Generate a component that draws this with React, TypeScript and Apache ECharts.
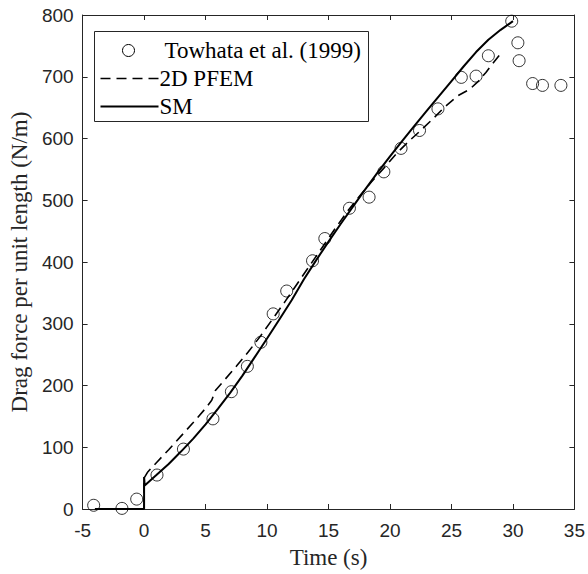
import React, { useEffect, useRef } from "react";
import * as echarts from "echarts";

const xTicks = [-5, 0, 5, 10, 15, 20, 25, 30, 35];
const yTicks = [0, 100, 200, 300, 400, 500, 600, 700, 800];

// Towhata et al. (1999) experimental points [time, force]
const towhataData: [number, number][] = [
  [-4.1, 6], [-1.8, 1], [-0.6, 16], [1.05, 55], [3.2, 97], [5.6, 146],
  [7.1, 190], [8.4, 231], [9.5, 270], [10.5, 316], [11.6, 353], [13.7, 402],
  [14.7, 438], [16.7, 487], [18.3, 505], [19.5, 546], [20.9, 584], [22.4, 613],
  [23.9, 648], [25.8, 699], [27.0, 701], [28.0, 734], [29.9, 790], [30.4, 755],
  [30.5, 726], [31.6, 689], [32.4, 686], [33.9, 686],
];

// 2D PFEM [time, force]
const pfemData: [number, number][] = [
  [0, 0], [0, 50], [0.3, 60], [1, 75], [2, 96], [3, 118], [4, 140], [5, 163],
  [5.5, 176], [5.8, 192], [6.5, 208], [7.5, 231], [8.5, 255], [9.5, 281],
  [10.5, 309], [11.5, 337], [12.5, 366], [13.5, 395], [14.5, 424], [15.5, 453],
  [16.5, 481], [17.5, 506], [18.5, 530], [19.5, 552], [20.5, 575], [21.5, 595],
  [22.5, 613], [23.5, 632], [24.5, 652], [25.5, 669], [26.5, 680], [27.2, 693],
  [27.8, 707], [28.3, 720], [28.9, 735],
];

// SM [time, force]
const smData: [number, number][] = [
  [-4, 0], [0, 0], [0, 52], [0.05, 38], [1, 55], [2, 73], [3, 93], [4, 114],
  [5, 137], [6, 162], [7, 188], [8, 216], [9, 246], [10, 276], [11, 307],
  [12, 338], [13, 372], [14, 403], [15, 433], [16, 462], [17, 490], [18, 518],
  [19, 545], [20, 571], [21, 596], [22, 621], [23, 645], [24, 669], [25, 693],
  [26, 717], [27, 740], [28, 760], [29, 776], [30, 790],
];

const legendItems = ["Towhata et al. (1999)", "2D PFEM", "SM"];

const AXIS_COLOR = "#262626";
const SERIF = "'Liberation Serif', 'Times New Roman', serif";
const SANS = "'Liberation Sans', Arial, sans-serif";
const SERIF_SIZE = 23;
const TICK_SIZE = 19;
const DASH = [10, 6];

export default function App() {
  const ref = useRef<HTMLDivElement>(null);

  useEffect(() => {
    if (!ref.current) return;
    const chart = echarts.init(ref.current, undefined, { renderer: "svg" });

    const axisCommon = {
      type: "value" as const,
      axisLine: { show: true, onZero: false, lineStyle: { color: AXIS_COLOR, width: 1 } },
      axisTick: { show: true, inside: true, length: 5, lineStyle: { color: AXIS_COLOR } },
      splitLine: { show: false },
    };

    const legendX = 94;
    const legendY = 31;
    const rowH = 28;

    chart.setOption({
      animation: false,
      backgroundColor: "#ffffff",
      grid: { left: 79.4, right: 10.2, top: 15, bottom: 61, containLabel: false },
      xAxis: [
        {
          ...axisCommon,
          position: "bottom",
          min: -5,
          max: 35,
          interval: 5,
          name: "Time (s)",
          nameLocation: "middle",
          nameGap: 37,
          nameTextStyle: { fontFamily: SERIF, fontSize: SERIF_SIZE, color: AXIS_COLOR },
          axisLabel: {
            fontFamily: SANS,
            fontSize: TICK_SIZE,
            color: AXIS_COLOR,
            margin: 12,
            formatter: (v: number) => (xTicks.includes(v) ? String(v) : ""),
          },
        },
        {
          ...axisCommon,
          position: "top",
          min: -5,
          max: 35,
          interval: 5,
          axisLabel: { show: false },
        },
      ],
      yAxis: [
        {
          ...axisCommon,
          position: "left",
          min: 0,
          max: 800,
          interval: 100,
          name: "Drag force per unit length (N/m)",
          nameLocation: "middle",
          nameGap: 46,
          nameTextStyle: { fontFamily: SERIF, fontSize: SERIF_SIZE, color: AXIS_COLOR },
          axisLabel: {
            fontFamily: SANS,
            fontSize: TICK_SIZE,
            color: AXIS_COLOR,
            margin: 9,
            formatter: (v: number) => (yTicks.includes(v) ? String(v) : ""),
          },
        },
        {
          ...axisCommon,
          position: "right",
          min: 0,
          max: 800,
          interval: 100,
          axisLabel: { show: false },
        },
      ],
      series: [
        {
          name: legendItems[2],
          type: "line",
          data: smData,
          showSymbol: false,
          symbol: "none",
          lineStyle: { color: "#000", width: 2 },
          z: 3,
        },
        {
          name: legendItems[1],
          type: "line",
          data: pfemData,
          showSymbol: false,
          symbol: "none",
          lineStyle: { color: "#000", width: 1.6, type: DASH },
          z: 2,
        },
        {
          name: legendItems[0],
          type: "scatter",
          data: towhataData,
          symbol: "circle",
          symbolSize: 12,
          itemStyle: { color: "rgba(0,0,0,0)", borderColor: "#000", borderWidth: 1 },
          z: 4,
        },
      ],
      graphic: [
        {
          type: "group",
          left: legendX,
          top: legendY,
          z: 10,
          children: [
            {
              type: "rect",
              shape: { x: 0, y: 0, width: 274, height: 90 },
              style: { fill: "#fff", stroke: AXIS_COLOR, lineWidth: 1 },
            },
            {
              type: "circle",
              shape: { cx: 34, cy: 19, r: 6 },
              style: { fill: "none", stroke: "#000", lineWidth: 1 },
            },
            {
              type: "text",
              x: 70,
              y: 19,
              style: {
                text: legendItems[0],
                fontFamily: SERIF,
                fontSize: SERIF_SIZE,
                fill: "#000",
                verticalAlign: "middle",
              },
            },
            {
              type: "line",
              shape: { x1: 6, y1: 19 + rowH, x2: 64, y2: 19 + rowH },
              style: { stroke: "#000", lineWidth: 1.6, lineDash: DASH },
            },
            {
              type: "text",
              x: 65,
              y: 19 + rowH,
              style: {
                text: legendItems[1],
                fontFamily: SERIF,
                fontSize: SERIF_SIZE,
                fill: "#000",
                verticalAlign: "middle",
              },
            },
            {
              type: "line",
              shape: { x1: 6, y1: 19 + 2 * rowH, x2: 64, y2: 19 + 2 * rowH },
              style: { stroke: "#000", lineWidth: 2 },
            },
            {
              type: "text",
              x: 65,
              y: 19 + 2 * rowH,
              style: {
                text: legendItems[2],
                fontFamily: SERIF,
                fontSize: SERIF_SIZE,
                fill: "#000",
                verticalAlign: "middle",
              },
            },
          ],
        },
      ],
    });

    return () => chart.dispose();
  }, []);

  return (
    <div
      ref={ref}
      style={{ position: "absolute", left: 0, top: 0, width: 588, height: 574 }}
    />
  );
}
